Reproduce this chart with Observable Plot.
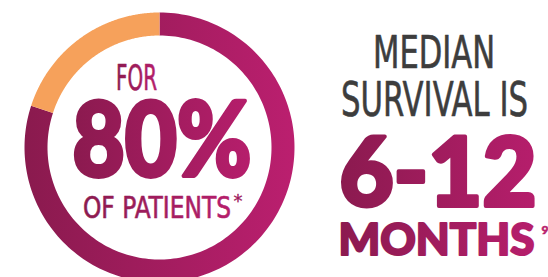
<!DOCTYPE html>
<html><head><meta charset="utf-8">
<script src="https://cdn.jsdelivr.net/npm/d3@7"></script>
<script src="https://cdn.jsdelivr.net/npm/@observablehq/plot@0.6"></script>
<style>html,body{margin:0;padding:0;background:#fff;overflow:hidden}</style>
</head><body><div id="chart"></div>
<script>
// ---- data ----
const segments = ["Patients", "Others"];
const shares = [80, 20];
const ringLabels = ["FOR", "80%", "OF PATIENTS", "*"];
const sideLabels = ["MEDIAN", "SURVIVAL IS", "6-12", "MONTHS", "9"];

// ---- layout ----
const W = 548, H = 277;
const cx = 159, cy = 147, rOuter = 135, rInner = 112;
const orange = "#f6a15b";
const gray = "#3d3d3d";
const hand = "'DejaVu Sans Condensed', 'DejaVu Sans', sans-serif";
const bold = "Lato, Roboto, 'Open Sans', sans-serif";

const total = d3.sum(shares);
const ringPts = [];
let acc = 0;
segments.forEach((s, i) => {
  const a0 = acc / total * 2 * Math.PI;
  const a1 = (acc + shares[i]) / total * 2 * Math.PI;
  acc += shares[i];
  const n = 180;
  for (let k = 0; k <= n; k++) {
    const a = a0 + (a1 - a0) * k / n;
    ringPts.push({seg: s, x: cx + rOuter * Math.sin(a), y: cy - rOuter * Math.cos(a)});
  }
  for (let k = n; k >= 0; k--) {
    const a = a0 + (a1 - a0) * k / n;
    ringPts.push({seg: s, x: cx + rInner * Math.sin(a), y: cy - rInner * Math.cos(a)});
  }
});

// label layout: [text, left x, baseline y, font size, length, family, weight, fill, strokeWidth]
const layout = [
  [ringLabels[0], 115.5, 89.5, 36, 41, hand, 400, "url(#textGrad)", 0.6],
  [ringLabels[1], 72, 175, 102, 179, bold, 900, "url(#textGrad)", 4],
  [ringLabels[2], 82.5, 217.5, 31, 148, hand, 400, "url(#textGrad)", 0.6],
  [ringLabels[3], 233, 206, 17, 9, hand, 400, "#a01d5e", 0.3],
  [sideLabels[0], 372.5, 67.5, 44, 122, hand, 400, gray, 0.6],
  [sideLabels[1], 340.5, 115.5, 48, 187, hand, 400, gray, 0.6],
  [sideLabels[2], 339, 205, 95, 197, bold, 900, "url(#textGrad)", 4],
  [sideLabels[3], 338, 254, 43, 196, bold, 900, "url(#textGrad)", 2],
  [sideLabels[4], 541, 233, 12, 7, bold, 900, "#b81e6d", 0.5]
];

const textMarks = layout.map(([t, x, y, size, len, fam, wt, fill, sw]) =>
  Plot.text([t], {x: [x], y: [y], text: d => d, textAnchor: "start", lineAnchor: "bottom",
    fontSize: size, fontFamily: fam, fontWeight: wt, fill, stroke: fill, strokeWidth: sw,
    strokeLinejoin: "round"})
);

const svg = Plot.plot({
  width: W, height: H,
  margin: 0,
  x: {domain: [0, W], range: [0, W], axis: null},
  y: {domain: [0, H], range: [0, H], axis: null},
  marks: [
    Plot.line(ringPts.filter(d => d.seg === segments[0]), {x: "x", y: "y", fill: "url(#ringGrad)", stroke: "none"}),
    Plot.line(ringPts.filter(d => d.seg === segments[1]), {x: "x", y: "y", fill: orange, stroke: "none"}),
    ...textMarks
  ]
});

const defs = d3.select(svg).insert("defs", ":first-child");
function grad(id, c0, c1) {
  const g = defs.append("linearGradient").attr("id", id).attr("x1", 0).attr("x2", 1).attr("y1", 0).attr("y2", 0);
  g.append("stop").attr("offset", 0).attr("stop-color", c0);
  g.append("stop").attr("offset", 1).attr("stop-color", c1);
}
grad("ringGrad", "#8a1a4e", "#bb1f6f");
grad("textGrad", "#8b1a4f", "#b61e6c");

const lengths = new Map(layout.map(r => [r[0], r[4]]));
d3.select(svg).selectAll("text").each(function() {
  const len = lengths.get(this.textContent);
  if (len) { this.setAttribute("textLength", len); this.setAttribute("lengthAdjust", "spacingAndGlyphs"); }
});
document.getElementById("chart").appendChild(svg);
</script>
</body></html>
